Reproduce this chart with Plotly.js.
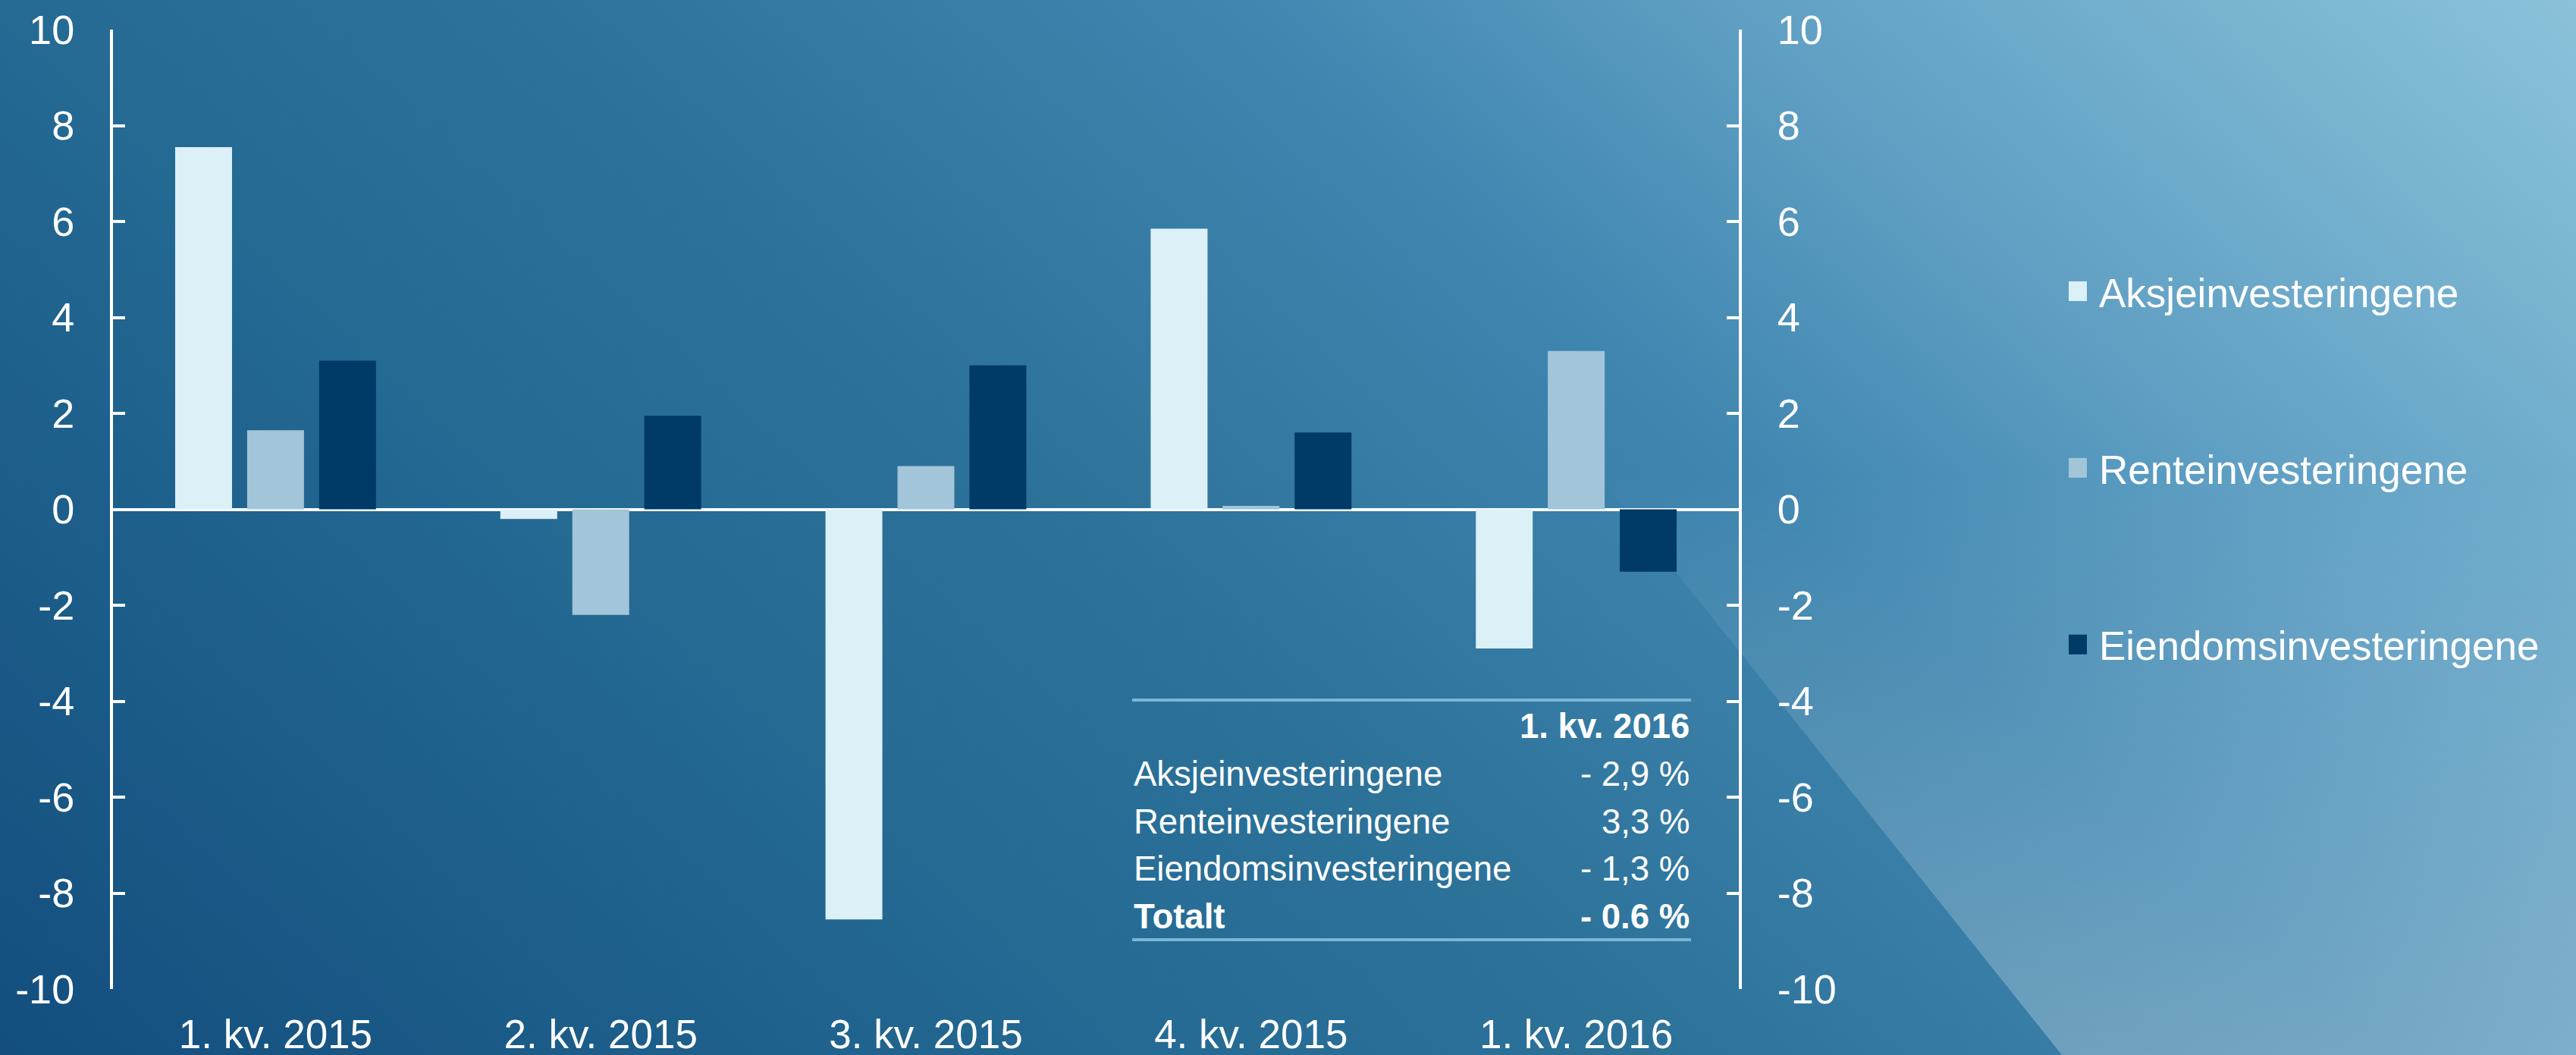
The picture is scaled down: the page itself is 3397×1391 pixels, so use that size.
<!DOCTYPE html>
<html>
<head>
<meta charset="utf-8">
<script src="https://cdn.plot.ly/plotly-3.0.1.min.js"></script>
<style>
  html, body { margin: 0; padding: 0; background: #1f5f8c; }
  #chart { width: 3397px; height: 1391px; }
</style>
</head>
<body>
<div id="chart"></div>
<script>
// ---- data ----
const categories = ['1. kv. 2015', '2. kv. 2015', '3. kv. 2015', '4. kv. 2015', '1. kv. 2016'];
const seriesNames = ['Aksjeinvesteringene', 'Renteinvesteringene', 'Eiendomsinvesteringene'];
const aksje = [7.55, -0.2, -8.55, 5.85, -2.9];
const rente = [1.65, -2.2, 0.9, 0.07, 3.3];
const eiendom = [3.1, 1.95, 3.0, 1.6, -1.3];
const yTicks = [-10, -8, -6, -4, -2, 0, 2, 4, 6, 8, 10];
const tableHeader = '1. kv. 2016';
const tableLabels = ['Aksjeinvesteringene', 'Renteinvesteringene', 'Eiendomsinvesteringene', 'Totalt'];
const tableValues = ['- 2,9 %', '3,3 %', '- 1,3 %', '- 0.6 %'];

// ---- styling ----
const colors = ['#dcf0f7', '#a2c5d9', '#003a66'];
const FONT = '"Liberation Sans", Arial, sans-serif';
const W = 3397, H = 1391, L = 149, R = 2293, T = 39, B = 1304;
const px = x => (x - L) / (R - L);
const py = y => (B - y) / (B - T);

// background (decoration) as SVG
const bgSvg = `<svg xmlns='http://www.w3.org/2000/svg' width='${W}' height='${H}'>
<defs>
<linearGradient id='g' gradientUnits='userSpaceOnUse' x1='0' y1='1391' x2='3397' y2='-2302'>
<stop offset='0' stop-color='#134e7e'/>
<stop offset='0.204' stop-color='#246a93'/>
<stop offset='0.298' stop-color='#2d7299'/>
<stop offset='0.424' stop-color='#3f86b0'/>
<stop offset='0.51' stop-color='#5f9fc3'/>
<stop offset='0.662' stop-color='#8bc2da'/>
<stop offset='1' stop-color='#a8d6ea'/>
</linearGradient>
<linearGradient id='o' gradientUnits='userSpaceOnUse' x1='0' y1='620' x2='0' y2='1391'>
<stop offset='0' stop-color='#ffffff' stop-opacity='0'/>
<stop offset='1' stop-color='#ffffff' stop-opacity='0.28'/>
</linearGradient>
</defs>
<rect width='${W}' height='${H}' fill='url(#g)'/>
<polygon points='1607,0 3397,0 3397,1391 2719,1391' fill='url(#o)'/>
</svg>`;
const chartDiv = document.getElementById('chart');
chartDiv.style.backgroundImage = 'url("data:image/svg+xml;utf8,' + encodeURIComponent(bgSvg) + '")';
chartDiv.style.backgroundSize = W + 'px ' + H + 'px';

const seriesValues = [aksje, rente, eiendom];
const traces = seriesValues.map((vals, i) => ({
  type: 'bar',
  x: categories,
  y: vals,
  name: seriesNames[i],
  legendgroup: 'g' + i,
  marker: { color: colors[i], line: { width: 0 } },
  hoverinfo: 'skip'
}));
// invisible companion trace so the right-hand (mirrored) axis is drawn
traces.push({
  type: 'scatter',
  mode: 'markers',
  x: categories,
  y: aksje,
  yaxis: 'y2',
  marker: { opacity: 0 },
  showlegend: false,
  hoverinfo: 'skip'
});

const axisCommon = {
  range: [-10, 10],
  tickmode: 'array',
  tickvals: yTicks,
  ticktext: yTicks.map(String),
  ticks: 'inside',
  ticklen: 16,
  tickwidth: 4,
  tickcolor: '#ffffff',
  showline: true,
  linecolor: '#ffffff',
  linewidth: 4,
  showgrid: false,
  tickfont: { family: FONT, size: 54, color: '#ffffff' },
  ticklabelstandoff: 36,
  fixedrange: true
};

const annotations = [];
const TFS = 45.5;
annotations.push({
  xref: 'paper', yref: 'paper', x: px(2230), y: py(957),
  xanchor: 'right', yanchor: 'middle', showarrow: false,
  text: '<b>' + tableHeader + '</b>',
  font: { family: FONT, size: TFS, color: '#ffffff' }
});
const rowY = [1020, 1083, 1145, 1208];
tableLabels.forEach((lab, i) => {
  const bold = i === tableLabels.length - 1;
  annotations.push({
    xref: 'paper', yref: 'paper', x: px(1493), y: py(rowY[i]),
    xanchor: 'left', yanchor: 'middle', showarrow: false,
    text: bold ? '<b>' + lab + '</b>' : lab,
    font: { family: FONT, size: TFS, color: '#ffffff' }
  });
  annotations.push({
    xref: 'paper', yref: 'paper', x: px(2230), y: py(rowY[i]),
    xanchor: 'right', yanchor: 'middle', showarrow: false,
    text: bold ? '<b>' + tableValues[i] + '</b>' : tableValues[i],
    font: { family: FONT, size: TFS, color: '#ffffff' }
  });
});

const shapes = [923, 1239].map(y => ({
  type: 'line', xref: 'paper', yref: 'paper',
  x0: px(1493), x1: px(2230), y0: py(y), y1: py(y),
  line: { color: '#7ab6d7', width: 4 }
}));

const layout = {
  width: W,
  height: H,
  margin: { l: L, r: W - R, t: T, b: H - B, pad: 0 },
  paper_bgcolor: 'rgba(0,0,0,0)',
  plot_bgcolor: 'rgba(0,0,0,0)',
  barmode: 'group',
  bargap: 0.336,
  bargroupgap: 0.21,
  font: { family: FONT, color: '#ffffff' },
  xaxis: {
    type: 'category',
    showline: false,
    ticks: '',
    showgrid: false,
    zeroline: false,
    tickfont: { family: FONT, size: 53, color: '#ffffff' },
    ticklabelstandoff: 24,
    fixedrange: true
  },
  yaxis: Object.assign({}, axisCommon, {
    zeroline: true, zerolinecolor: '#ffffff', zerolinewidth: 4
  }),
  yaxis2: Object.assign({}, axisCommon, {
    overlaying: 'y', side: 'right', zeroline: false
  }),
  showlegend: true,
  legend: {
    x: px(2728), xanchor: 'left',
    y: py(343), yanchor: 'top',
    bgcolor: 'rgba(0,0,0,0)',
    borderwidth: 0,
    traceorder: 'grouped',
    tracegroupgap: 161,
    font: { family: FONT, size: 53, color: '#ffffff' }
  },
  annotations: annotations,
  shapes: shapes
};

Plotly.newPlot(chartDiv, traces, layout, { staticPlot: true, displayModeBar: false }).then(() => {
  chartDiv.querySelectorAll('.legendpoints path').forEach(p => {
    const t = p.getAttribute('transform') || '';
    p.setAttribute('transform', 'translate(-9,0) ' + t + ' scale(2.17)');
  });
});
</script>
</body>
</html>
